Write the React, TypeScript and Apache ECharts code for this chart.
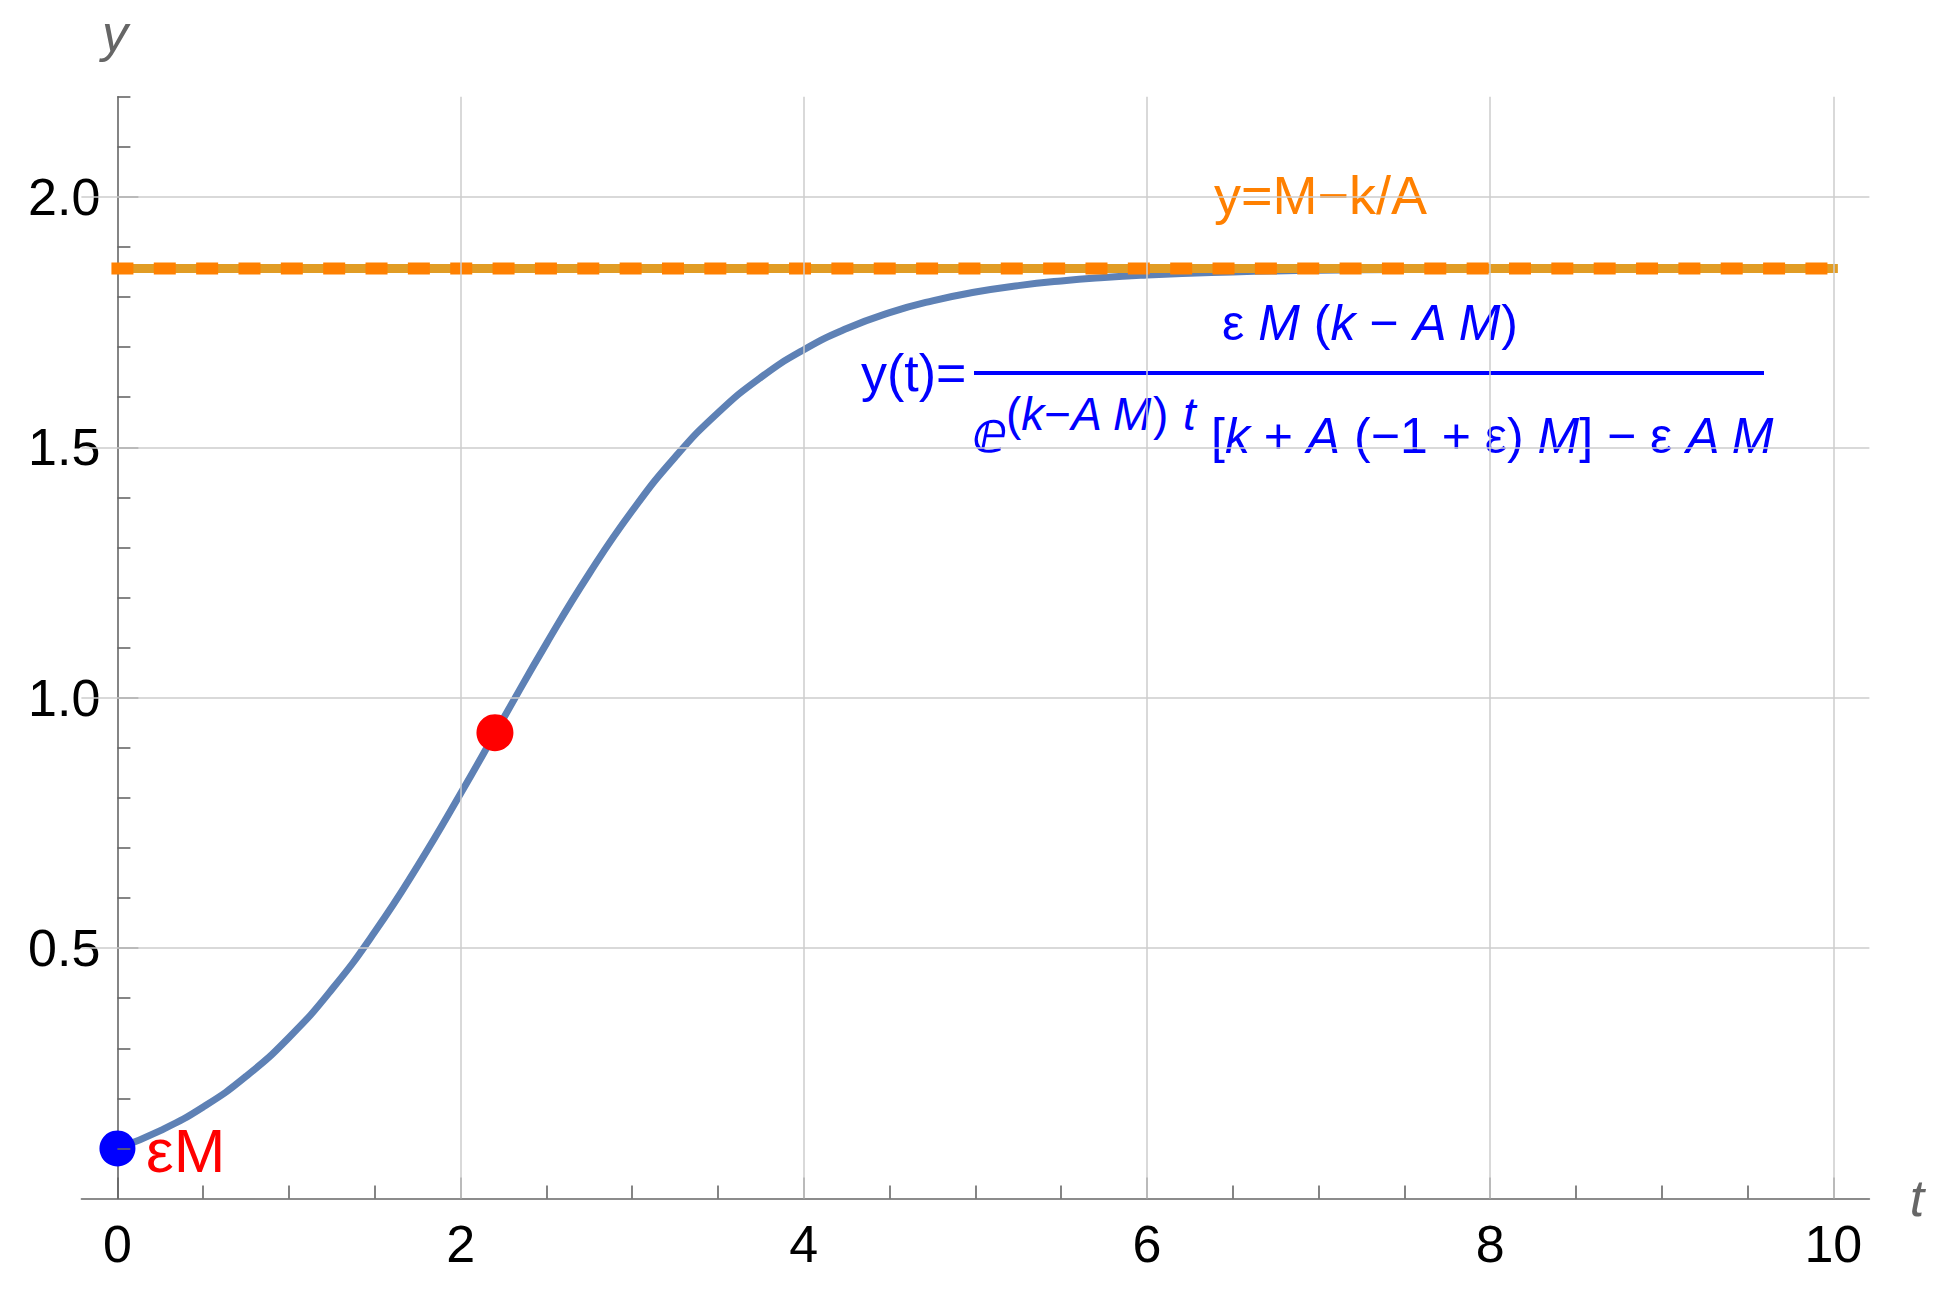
import React, { useEffect, useRef } from "react";
import * as echarts from "echarts";

// ---- data ----
const tValues = [0, 0.25, 0.5, 0.75, 1, 1.25, 1.5, 1.75, 2, 2.25, 2.5, 2.75, 3, 3.25, 3.5, 3.75, 4, 4.25, 4.5, 4.75, 5, 5.25, 5.5, 5.75, 6, 6.25, 6.5, 6.75, 7, 7.5, 8, 8.5, 9, 9.5, 10];
const yValues = [0.1, 0.1357, 0.1828, 0.244, 0.3216, 0.4177, 0.5324, 0.6641, 0.8085, 0.959, 1.108, 1.248, 1.3732, 1.4804, 1.5689, 1.6396, 1.6948, 1.737, 1.7688, 1.7924, 1.8099, 1.8228, 1.8322, 1.839, 1.844, 1.8476, 1.8502, 1.8521, 1.8534, 1.8551, 1.856, 1.8565, 1.8568, 1.8569, 1.857];
const asymptoteT = [0, 10];
const asymptoteY = 1.857;
const initialPoint = [0, 0.1];
const inflectionPoint = [2.2, 0.93];

const xRange = [-0.21, 10.21];
const yRange = [0, 2.2];
const xMajorTicks = [0, 2, 4, 6, 8, 10];
const xMinorTicks = [0.5, 1, 1.5, 2.5, 3, 3.5, 4.5, 5, 5.5, 6.5, 7, 7.5, 8.5, 9, 9.5];
const yMajorTicks = [0.5, 1, 1.5, 2];
const yMinorTicks = [0.1, 0.2, 0.3, 0.4, 0.6, 0.7, 0.8, 0.9, 1.1, 1.2, 1.3, 1.4, 1.6, 1.7, 1.8, 1.9, 2.1, 2.2];
const xGridLines = [2, 4, 6, 8, 10];
const yGridLines = [0.5, 1, 1.5, 2];

const FONT = "'Liberation Sans', Arial, Helvetica, sans-serif";
const AXIS_GRAY = "#666666";
const BLUE = "#0000FF";

export default function App() {
  const ref = useRef<HTMLDivElement>(null);

  useEffect(() => {
    if (!ref.current) return;
    const chart = echarts.init(ref.current, null, { renderer: "svg" });

    const curve = tValues.map((t, i) => [t, yValues[i]]);
    const asym = asymptoteT.map((t) => [t, asymptoteY]);

    const up = { fontSize: 50, fontFamily: FONT, fill: BLUE };
    const it = { fontSize: 50, fontFamily: FONT, fontStyle: "italic", fill: BLUE };
    const upS = { fontSize: 46, fontFamily: FONT, fill: BLUE };
    const itS = { fontSize: 46, fontFamily: FONT, fontStyle: "italic", fill: BLUE };

    // y axis sits at t = 0 : grid left 81.4 + 36 = 117.4
    const yAxisOffset = -36;

    const option: any = {
      animation: false,
      backgroundColor: "#ffffff",
      grid: {
        left: 81.4,
        top: 96.7,
        width: 1788,
        height: 1101.8,
        containLabel: false,
        outerBoundsMode: "none",
      },
      xAxis: [
        {
          type: "value",
          min: xRange[0],
          max: xRange[1],
          position: "bottom",
          axisLine: { show: true, onZero: false, lineStyle: { color: AXIS_GRAY, width: 1.6 } },
          axisTick: { show: true, inside: true, length: 21, customValues: xMajorTicks, lineStyle: { color: AXIS_GRAY, width: 1.6 } },
          axisLabel: {
            show: true,
            customValues: xMajorTicks,
            margin: 19,
            fontSize: 52,
            fontFamily: FONT,
            color: "#000000",
            formatter: (v: number) => String(v),
          },
          splitLine: { show: false },
        },
        {
          type: "value",
          min: xRange[0],
          max: xRange[1],
          position: "bottom",
          axisLine: { show: false, onZero: false },
          axisTick: { show: true, inside: true, length: 13, customValues: xMinorTicks, lineStyle: { color: AXIS_GRAY, width: 1.6 } },
          axisLabel: { show: false },
          splitLine: { show: false },
        },
      ],
      yAxis: [
        {
          type: "value",
          min: yRange[0],
          max: yRange[1],
          position: "left",
          offset: yAxisOffset,
          axisLine: { show: true, onZero: false, lineStyle: { color: AXIS_GRAY, width: 1.6 } },
          axisTick: { show: true, inside: true, length: 21, customValues: yMajorTicks, lineStyle: { color: AXIS_GRAY, width: 1.6 } },
          axisLabel: {
            show: true,
            customValues: yMajorTicks,
            margin: 17,
            fontSize: 52,
            fontFamily: FONT,
            color: "#000000",
            formatter: (v: number) => v.toFixed(1),
          },
          splitLine: { show: false },
        },
        {
          type: "value",
          min: yRange[0],
          max: yRange[1],
          position: "left",
          offset: yAxisOffset,
          z: 10,
          axisLine: { show: false, onZero: false },
          axisTick: { show: true, inside: true, length: 13, customValues: yMinorTicks, lineStyle: { color: AXIS_GRAY, width: 1.6 } },
          axisLabel: { show: false },
          splitLine: { show: false },
        },
      ],
      series: [
        {
          name: "grid",
          type: "line",
          data: [],
          z: 1,
          silent: true,
          markLine: {
            silent: true,
            symbol: ["none", "none"],
            label: { show: false },
            lineStyle: { color: "#cccccc", width: 1.5, type: "solid" },
            data: [
              ...xGridLines.map((v) => ({ xAxis: v })),
              ...yGridLines.map((v) => ({ yAxis: v })),
            ],
          },
        },
        {
          name: "y(t)",
          type: "line",
          data: curve,
          showSymbol: false,
          smooth: 0.5,
          z: 2,
          lineStyle: { color: "#5E81B5", width: 7 },
        },
        {
          name: "asymptote",
          type: "line",
          data: asym,
          showSymbol: false,
          z: 3,
          lineStyle: { color: "#E19C24", width: 9, cap: "square" },
        },
        {
          name: "asymptote dashed",
          type: "line",
          data: asym,
          showSymbol: false,
          z: 4,
          lineStyle: { color: "#FF8000", width: 12, type: [10, 32.35], cap: "square" },
        },
        {
          name: "initial",
          type: "scatter",
          data: [initialPoint],
          symbolSize: 36,
          z: 5,
          itemStyle: { color: BLUE, opacity: 1 },
        },
        {
          name: "inflection",
          type: "scatter",
          data: [inflectionPoint],
          symbolSize: 37,
          z: 5,
          itemStyle: { color: "#FF0000", opacity: 1 },
        },
      ],
      graphic: [
        {
          type: "text",
          x: 115,
          y: 32.5,
          style: { text: "y", fontSize: 52, fontFamily: FONT, fontStyle: "italic", fill: AXIS_GRAY, align: "center", verticalAlign: "middle" },
        },
        {
          type: "text",
          x: 1917,
          y: 1198.3,
          style: { text: "t", fontSize: 52, fontFamily: FONT, fontStyle: "italic", fill: AXIS_GRAY, align: "center", verticalAlign: "middle" },
        },
        {
          type: "text",
          x: 1214,
          y: 195.3,
          style: { text: "y=M\u2212k/A", fontSize: 54, fontFamily: FONT, fill: "#FF8000", align: "left", verticalAlign: "middle" },
        },
        {
          type: "text",
          x: 146,
          y: 1150.5,
          style: { text: "\u03b5M", fontSize: 62, fontFamily: FONT, fill: "#FF0000", align: "left", verticalAlign: "middle" },
        },
        {
          type: "text",
          x: 861,
          y: 373,
          style: { text: "y(t)=", fontSize: 52, fontFamily: FONT, fill: BLUE, align: "left", verticalAlign: "middle" },
        },
        {
          type: "rect",
          shape: { x: 974, y: 371, width: 790, height: 4 },
          style: { fill: BLUE },
        },
        {
          type: "text",
          x: 1370,
          y: 322.7,
          style: {
            text: "{u|\u03b5 }{i|M }{u|(}{i|k}{u| \u2212 }{i|A M}{u|)}",
            rich: { u: up, i: it },
            fill: BLUE,
            fontSize: 50,
            fontFamily: FONT,
            align: "center",
            verticalAlign: "middle",
          },
        },
        {
          type: "text",
          x: 972,
          y: 432,
          style: { text: "\u2147", fontSize: 58, fontFamily: "'DejaVu Sans', sans-serif", fill: BLUE, align: "left", verticalAlign: "middle" },
        },
        {
          type: "text",
          x: 1006,
          y: 414,
          style: {
            text: "{u|(}{i|k}{u|\u2212}{i|A M}{u|)}",
            rich: { u: upS, i: itS },
            fill: BLUE,
            fontSize: 46,
            fontFamily: FONT,
            align: "left",
            verticalAlign: "middle",
          },
        },
        {
          type: "text",
          x: 1183,
          y: 414,
          style: { text: "t", fontSize: 46, fontFamily: FONT, fontStyle: "italic", fill: BLUE, align: "left", verticalAlign: "middle" },
        },
        {
          type: "text",
          x: 1211,
          y: 435.7,
          style: {
            text: "{u|[}{i|k}{u| + }{i|A}{u| (\u22121 + \u03b5) }{i|M}{u|] \u2212 \u03b5 }{i|A M}",
            rich: { u: up, i: it },
            fill: BLUE,
            fontSize: 50,
            fontFamily: FONT,
            align: "left",
            verticalAlign: "middle",
          },
        },
      ],
    };

    chart.setOption(option);
    return () => chart.dispose();
  }, []);

  return (
    <div
      ref={ref}
      style={{ position: "absolute", left: 0, top: 0, width: 1953, height: 1300, background: "#ffffff" }}
    />
  );
}
